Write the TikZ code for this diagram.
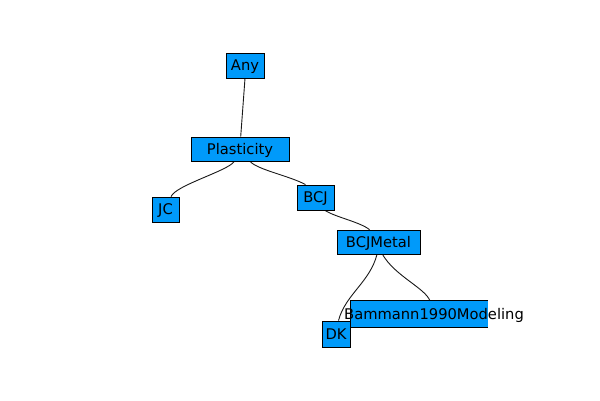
\documentclass[tikz,border=0pt]{standalone}
\usepackage{fontspec}
\setmainfont{DejaVu Sans}
\usetikzlibrary{backgrounds}
\definecolor{boxblue}{HTML}{009AFA}
\tikzset{
  treebox/.style={draw=black, fill=boxblue, line width=0.8pt, inner sep=0pt,
    font=\fontsize{14.7}{17}\selectfont, text height=10.7pt, text depth=0pt},
  treeedge/.style={draw=black!90, line width=0.9pt},
}
\begin{document}
\begin{tikzpicture}[x=1pt,y=-1pt]
\useasboundingbox (0,0) rectangle (600,400);
% tree nodes
\node[treebox, minimum width=38pt, minimum height=25pt] (any) at (245,65.5) {Any};
\node[treebox, minimum width=98pt, minimum height=24pt] (pl) at (240,149) {Plasticity};
\node[treebox, minimum width=27pt, minimum height=25pt] (jc) at (165.5,209.5) {JC};
\node[treebox, minimum width=37pt, minimum height=25pt] (bcj) at (315.5,197.5) {BCJ};
\node[treebox, minimum width=83pt, minimum height=24pt] (met) at (378.5,242) {BCJMetal};
% box of the last leaf: filled, outlined on three sides, label wider than box
\node[fill=boxblue, inner sep=0pt, minimum width=137pt, minimum height=26pt] (bambox) at (419.5,314) {};
\draw[line width=0.8pt] (bambox.north east) -- (bambox.north west) -- (bambox.south west) -- (bambox.south east);
\node[inner sep=0pt, font=\fontsize{14.7}{17}\selectfont, text height=10.7pt, text depth=0pt] (bam) at (434,314) {Bammann1990Modeling};
\node[treebox, minimum width=28pt, minimum height=26pt] (dk) at (336,334) {DK};
% connectors behind the boxes
\begin{pgfonlayer}{background}
\draw[treeedge] (any.south) -- ([xshift=0.7pt]pl.north);
\draw[treeedge] ([xshift=-5.7pt]pl.south) .. controls (228,171) and (176,185) .. ([xshift=5.5pt]jc.north);
\draw[treeedge] ([xshift=10pt]pl.south) .. controls (258,170) and (290,176) .. ([xshift=-10pt]bcj.north);
\draw[treeedge] ([xshift=9.5pt]bcj.south) .. controls (335,217) and (360,222) .. ([xshift=-9pt]met.north);
\draw[treeedge] ([xshift=-1.5pt]met.south) .. controls (370,282) and (345,295) .. ([xshift=2.5pt]dk.north);
\draw[treeedge] ([xshift=4pt]met.south) .. controls (395,276) and (425,288) .. ([xshift=10.5pt]bambox.north);
\end{pgfonlayer}
\end{tikzpicture}
\end{document}
